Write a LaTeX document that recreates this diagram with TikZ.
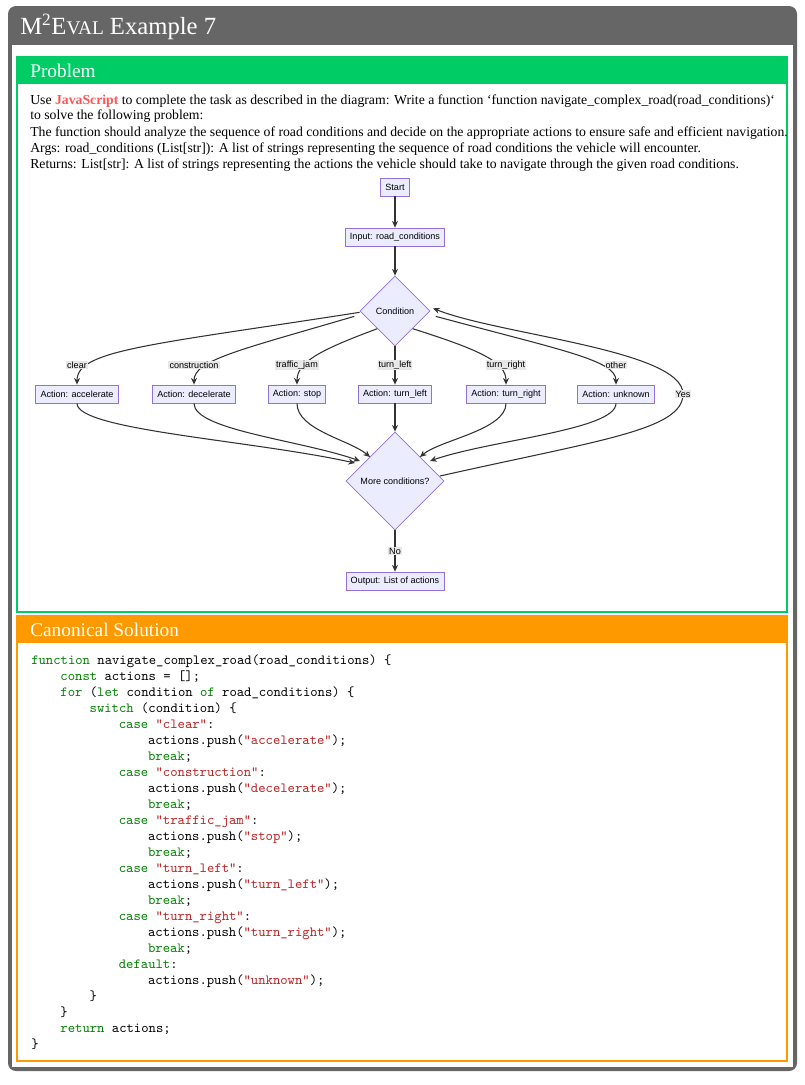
\documentclass[tikz,border=0pt]{standalone}
\usepackage{fontspec}
\setmainfont{Liberation Serif}
\newfontfamily\fcfont{Liberation Sans}
\usetikzlibrary{shapes.geometric,arrows.meta}
\definecolor{outergray}{HTML}{666666}
\definecolor{probgreen}{HTML}{00CC66}
\definecolor{solorange}{HTML}{FF9900}
\definecolor{nodefill}{HTML}{ECECFF}
\definecolor{nodeborder}{HTML}{9370DB}
\definecolor{edgecol}{HTML}{333333}
\definecolor{lblbg}{HTML}{E8E8E8}
\definecolor{kwgreen}{HTML}{008000}
\definecolor{strred}{HTML}{BA2121}
\definecolor{jsred}{HTML}{FF5555}
\newcommand{\kw}[1]{\textcolor{kwgreen}{#1}}
\newcommand{\st}[1]{\textcolor{strred}{#1}}
\begin{document}
\begin{tikzpicture}[x=0.75pt,y=-0.75pt,
  box/.style={draw=nodeborder,fill=nodefill,line width=0.6pt,font=\fcfont\fontsize{6.8}{7}\selectfont,inner xsep=3.5pt,minimum height=13.5pt},
  dia/.style={diamond,draw=nodeborder,fill=nodefill,line width=0.6pt,font=\fcfont\fontsize{6.8}{7}\selectfont,inner sep=0pt,aspect=1},
  lbl/.style={fill=lblbg,font=\fcfont\fontsize{6.8}{7}\selectfont,inner sep=0.8pt},
  arr/.style={draw=edgecol,line width=0.8pt,-{Stealth[length=5pt,width=4.5pt]}},
  body/.style={anchor=base west,inner sep=0pt,font=\fontsize{10.3}{11}\selectfont},
  code/.style={anchor=base west,inner sep=0pt,font=\ttfamily\fontsize{10.5}{12}\selectfont}]
\useasboundingbox (0,0) rectangle (804,1085);
% outer frame
\fill[outergray,rounded corners=6pt] (8,6) rectangle (797,1071);
\fill[white] (12,45) rectangle (793,1067);
\node[anchor=west,text=white,font=\fontsize{18.5}{20}\selectfont,inner sep=0pt] (title) at (20,27) {M\textsuperscript{2}E{\fontsize{14.5}{16}\selectfont VAL} Example 7};
% problem box
\draw[probgreen,line width=1.5pt] (17,57) rectangle (787,612);
\fill[probgreen] (17,57) rectangle (787,84);
\node[anchor=west,text=white,font=\fontsize{14.5}{16}\selectfont,inner sep=0pt] (ptitle) at (30,71) {Problem};
\node[body] (t1) at (30,104) {Use \textcolor{jsred}{\textbf{JavaScript}} to complete the task as described in the diagram: Write a function `function navigate\_complex\_road(road\_conditions)`};
\node[body] (t2) at (30,119) {to solve the following problem:};
\node[body] (t3) at (30,136) {The function should analyze the sequence of road conditions and decide on the appropriate actions to ensure safe and efficient navigation.};
\node[body] (t4) at (30,152) {Args: road\_conditions (List[str]): A list of strings representing the sequence of road conditions the vehicle will encounter.};
\node[body] (t5) at (30,168) {Returns: List[str]: A list of strings representing the actions the vehicle should take to navigate through the given road conditions.};
% flowchart
\node[box] (start) at (395,187) {Start};
\node[box] (inp) at (395,237) {Input: road\_conditions};
\node[dia,minimum size=70*0.75pt] (cond) at (395,311) {Condition};
\node[box] (a1) at (77,394) {Action: accelerate};
\node[box] (a2) at (194,394) {Action: decelerate};
\node[box] (a3) at (297,394) {Action: stop};
\node[box] (a4) at (395,394) {Action: turn\_left};
\node[box] (a5) at (506,394) {Action: turn\_right};
\node[box] (a6) at (616,394) {Action: unknown};
\node[dia,minimum size=98*0.75pt] (more) at (395,481) {More conditions?};
\node[box] (out) at (395,581) {Output: List of actions};
\draw[arr] (start) -- (inp);
\draw[arr] (inp) -- (cond);
\draw[arr] ([yshift=-1pt]cond.west) .. controls (150,345) and (77,350) .. (a1.north);
\draw[arr] ([xshift=-4pt,yshift=-4pt]cond.west) .. controls (240,350) and (194,360) .. (a2.north);
\draw[arr] (cond.south west) .. controls (320,350) and (297,362) .. (a3.north);
\draw[arr] (cond.south) -- (a4.north);
\draw[arr] (cond.south east) .. controls (480,350) and (506,362) .. (a5.north);
\draw[arr] ([xshift=4pt,yshift=-4pt]cond.east) .. controls (560,350) and (616,360) .. (a6.north);
\draw[arr] (a1.south) .. controls (77,430) and (250,440) .. (355,463);
\draw[arr] (a2.south) .. controls (194,430) and (300,440) .. (360,461);
\draw[arr] (a3.south) .. controls (297,430) and (350,440) .. (370,457);
\draw[arr] (a4.south) -- (more.north);
\draw[arr] (a5.south) .. controls (506,430) and (440,440) .. (420,457);
\draw[arr] (a6.south) .. controls (616,430) and (490,440) .. (430,461);
\draw[arr] (440,476) .. controls (600,440) and (683,430) .. (683,394) .. controls (683,350) and (500,335) .. ([xshift=2pt,yshift=2pt]cond.east);
\node[lbl] (l1) at (77,365) {clear};
\node[lbl] (l2) at (194,365) {construction};
\node[lbl] (l3) at (297,365) {traffic\_jam};
\node[lbl] (l4) at (395,365) {turn\_left};
\node[lbl] (l5) at (506,365) {turn\_right};
\node[lbl] (l6) at (616,365) {other};
\node[lbl] (l7) at (683,394) {Yes};
\draw[arr] (more.south) -- (out.north);
\node[lbl] (l8) at (395,551) {No};
% solution box
\draw[solorange,line width=1.5pt] (17,616) rectangle (787,1061);
\fill[solorange] (17,616) rectangle (787,643);
\node[anchor=west,text=white,font=\fontsize{14.5}{16}\selectfont,inner sep=0pt] (stitle) at (30,630) {Canonical Solution};
\newcommand{\cl}[3]{\node[code] at ({31+#2*7.3},{664+#1*16}) {#3};}
\cl{0}{0}{\kw{function} navigate\_complex\_road(road\_conditions) \{}
\cl{1}{4}{\kw{const} actions = [];}
\cl{2}{4}{\kw{for} (\kw{let} condition \kw{of} road\_conditions) \{}
\cl{3}{8}{\kw{switch} (condition) \{}
\cl{4}{12}{\kw{case} \st{"clear"}:}
\cl{5}{16}{actions.push(\st{"accelerate"});}
\cl{6}{16}{\kw{break};}
\cl{7}{12}{\kw{case} \st{"construction"}:}
\cl{8}{16}{actions.push(\st{"decelerate"});}
\cl{9}{16}{\kw{break};}
\cl{10}{12}{\kw{case} \st{"traffic\_jam"}:}
\cl{11}{16}{actions.push(\st{"stop"});}
\cl{12}{16}{\kw{break};}
\cl{13}{12}{\kw{case} \st{"turn\_left"}:}
\cl{14}{16}{actions.push(\st{"turn\_left"});}
\cl{15}{16}{\kw{break};}
\cl{16}{12}{\kw{case} \st{"turn\_right"}:}
\cl{17}{16}{actions.push(\st{"turn\_right"});}
\cl{18}{16}{\kw{break};}
\cl{19}{12}{\kw{default}:}
\cl{20}{16}{actions.push(\st{"unknown"});}
\cl{21}{8}{\}}
\cl{22}{4}{\}}
\cl{23}{4}{\kw{return} actions;}
\cl{24}{0}{\}}
\end{tikzpicture}
\end{document}
